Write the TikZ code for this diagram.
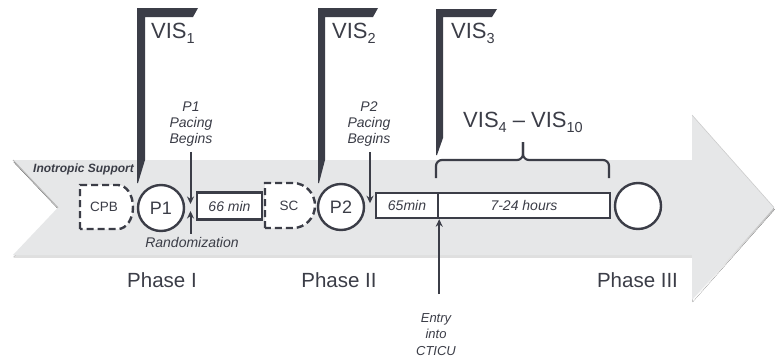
\documentclass[tikz,border=0pt]{standalone}
\usepackage{fontspec}
\setmainfont{Liberation Sans}
\usetikzlibrary{arrows.meta,calc}
\definecolor{ink}{HTML}{3B3D47}
\definecolor{band}{HTML}{E6E7E8}
\definecolor{shade}{HTML}{6E6F73}
\newcommand\vsub[1]{\raisebox{-5pt}{\fontsize{14.5}{14.5}\selectfont #1}}
\tikzset{
 lbl/.style={font=\fontsize{14}{16}\selectfont\itshape, text=ink, align=center, inner sep=0pt},
 circ/.style={circle, draw=ink, line width=2.4pt, fill=white, minimum size=46pt, inner sep=0pt, text=ink, font=\fontsize{18}{18}\selectfont},
 dbox/.style={rectangle, draw=ink, line width=2.4pt, fill=white, inner sep=0pt, text=ink, font=\fontsize{14}{16}\selectfont\itshape},
 dashshape/.style={draw=ink, line width=2.4pt, dash pattern=on 7pt off 4pt, fill=white},
 dlabel/.style={inner sep=0pt, text=ink, font=\fontsize{13.5}{14}\selectfont},
 flag/.style={fill=ink},
 phase/.style={font=\fontsize{20.5}{22}\selectfont, text=ink, inner sep=0pt, anchor=base},
 vis/.style={font=\fontsize{22}{24}\selectfont, text=ink, inner sep=0pt, anchor=base west},
 arr/.style={draw=ink, line width=2pt, -{Stealth[length=7.5pt,width=7pt]}},
 bracepart/.style={draw=ink, line width=2.2pt, rounded corners=6pt},
}
\begin{document}
\begin{tikzpicture}[x=1pt,y=-1pt]
\fill[white] (0,0) rectangle (776,362);
\useasboundingbox (0,0) rectangle (776,362);
% big arrow band
\fill[shade, shift={(0.6,2)}] (13,160) -- (692,160) -- (692,115) -- (774,207.5) -- (692,300) -- (692,255) -- (13,255) -- (58,207.5) -- cycle;
\fill[band] (13,160) -- (692,160) -- (692,115) -- (774,207.5) -- (692,300) -- (692,255) -- (13,255) -- (58,207.5) -- cycle;
\draw[gray!55, line width=0.8pt] (13,160) -- (58,207.5);
\draw[gray!40, line width=0.6pt] (692,115) -- (774,207.5);
% VIS flags
\fill[flag] (137,8) -- (198,8) -- (193,17) -- (145,17) -- (145,160) -- (138,183) -- (137,183) -- cycle;
\fill[flag] (318,8) -- (378,8) -- (373,17) -- (325,17) -- (325,160) -- (319,183) -- (318,183) -- cycle;
\fill[flag] (436,9) -- (497,9) -- (492,17) -- (443,17) -- (443,138) -- (437,155) -- (436,155) -- cycle;
\node[vis] (vis1) at (151,38) {VIS\vsub{1}};
\node[vis] (vis2) at (332,38) {VIS\vsub{2}};
\node[vis] (vis3) at (451,38) {VIS\vsub{3}};
\node[vis, anchor=base] (vis410) at (523,127) {VIS\vsub{4} \textendash\ VIS\vsub{10}};
% brace
\draw[bracepart] (436,178) -- (436,160) -- (523,160) -- (523,142);
\draw[bracepart] (609,178) -- (609,160) -- (523,160) -- (523,142);
% label on band
\node[font=\fontsize{12}{14}\selectfont\bfseries\itshape, text=ink, anchor=base west, inner sep=0pt] (ino) at (33,172) {Inotropic Support};
% dashed shapes
\filldraw[dashshape] (80,229) -- (80,185) -- (118,185) arc[start angle=-90, end angle=90, x radius=15, y radius=22] -- cycle;
\node[dlabel] (cpb) at (104,207) {CPB};
\filldraw[dashshape] (265,228) -- (265,183) -- (293,183) arc[start angle=-90, end angle=90, x radius=22, y radius=22.5] -- cycle;
\node[dlabel] (sc) at (289,206) {SC};
% circles and boxes
\node[circ] (p1) at (161,208) {P1};
\node[dbox, minimum width=65pt, minimum height=27pt] (b66) at (229.5,206) {66 min};
\node[circ] (p2) at (341,207) {P2};
\node[dbox, minimum width=62pt, minimum height=25pt] (b65) at (407,205.5) {65min};
\node[dbox, minimum width=172pt, minimum height=25pt] (b724) at (524,205.5) {7-24 hours};
\node[circ] (p3) at (638,206) {};
% gaps
\coordinate (gap1) at ($(p1.east)!0.5!(b66.west)$);
\coordinate (gap2) at ($(p2.east)!0.5!(b65.west)$);
% labels and arrows
\node[lbl, anchor=north] (pace1) at (191,102) {P1\\Pacing\\Begins};
\draw[arr] ($(pace1.south -| gap1)+(0,5)$) -- ($(gap1)+(0,-3)$);
\node[lbl, anchor=base] (rand) at (192,247) {Randomization};
\draw[arr] ($(rand.north -| gap1)+(0,-3)$) -- ($(gap1)+(0,4)$);
\node[lbl, anchor=north] (pace2) at (369,102) {P2\\Pacing\\Begins};
\draw[arr] ($(pace2.south -| gap2)+(0,5)$) -- ($(gap2)+(0,-3)$);
\coordinate (entrytail) at ($(b65.south east)+(0,75)$);
\node[lbl, font=\fontsize{13}{16.5}\selectfont\itshape, anchor=north] (entry) at (436,313) {Entry\\into\\CTICU};
\draw[arr] (entrytail) -- (b65.south east);
% phases
\node[phase] (ph1) at (162,287) {Phase I};
\node[phase] (ph2) at (339,287) {Phase II};
\node[phase] (ph3) at (637.5,287) {Phase III};
\end{tikzpicture}
\end{document}
